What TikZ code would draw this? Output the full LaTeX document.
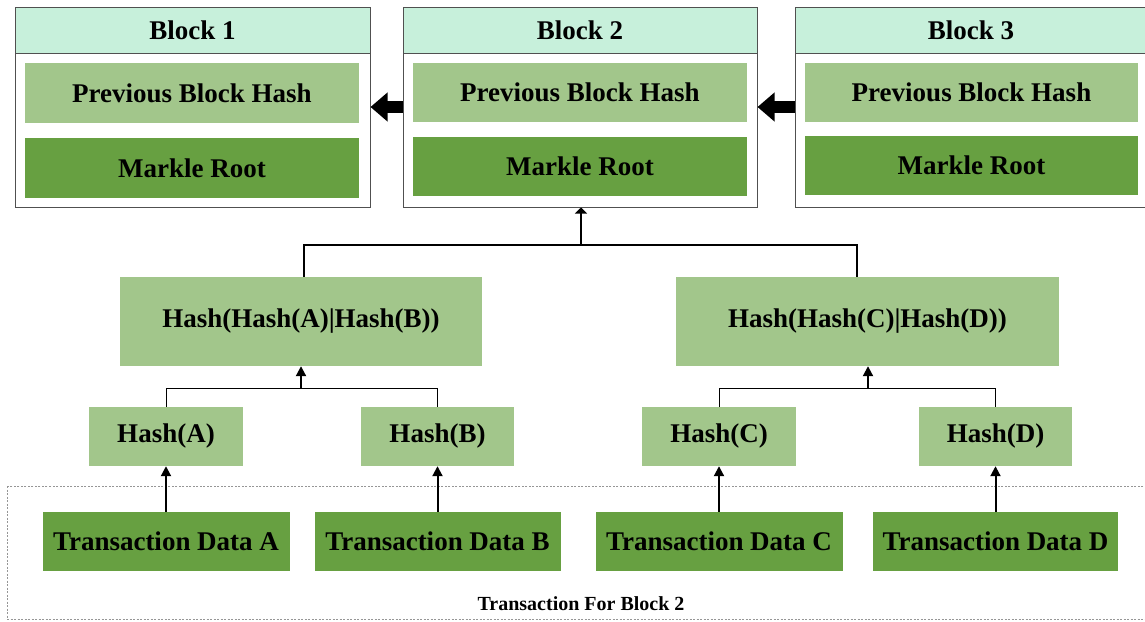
\documentclass[tikz,border=0pt]{standalone}
\usepackage{fontspec}
\setmainfont{Liberation Serif}
\usetikzlibrary{arrows.meta}
\definecolor{hdr}{RGB}{199,240,219}
\definecolor{lgreen}{RGB}{162,198,139}
\definecolor{dgreen}{RGB}{103,160,65}
\definecolor{bordergray}{RGB}{80,80,80}
\definecolor{dashgray}{RGB}{150,150,150}
\begin{document}
\begin{tikzpicture}[x=1pt,y=-1pt,
  font=\fontsize{27}{32}\selectfont\bfseries,
  outerbox/.style={draw=bordergray,line width=1pt,fill=white,inner sep=0pt},
  hdrbox/.style={draw=bordergray,line width=1pt,fill=hdr,inner sep=0pt},
  lbox/.style={fill=lgreen,inner sep=0pt},
  dbox/.style={fill=dgreen,inner sep=0pt},
  blockarrow/.style={line width=12pt,-{Triangle[length=17pt,width=28pt]}},
  rootline/.style={line width=2pt},
  rootarrow/.style={line width=2.5pt,-{Triangle[length=6pt,width=12pt]}},
  thinline/.style={line width=1pt},
  uparrow/.style={line width=2pt,-{Triangle[length=10pt,width=10pt]}},
  dashbox/.style={draw=dashgray,line width=0.8pt,dash pattern=on 2pt off 1.5pt}]
\clip (0,0) rectangle (1145,621);
\fill[white] (0,0) rectangle (1145,621);
% dashed region
\draw[dashbox] (7,486) rectangle (1170,619);
\node[font=\fontsize{20}{24}\selectfont\bfseries] (lbl) at (581,604) {Transaction For Block 2};
% Block 1
\node[outerbox,minimum width=355,minimum height=200] (b1) at (192.5,107) {};
\node[hdrbox,minimum width=355,minimum height=46] (h1) at (192.5,30) {Block 1};
\node[lbox,minimum width=334,minimum height=60] (p1) at (192,93) {Previous Block Hash};
\node[dbox,minimum width=334,minimum height=60] (m1) at (192,168) {Markle Root};
% Block 2
\node[outerbox,minimum width=354,minimum height=200] (b2) at (580,107) {};
\node[hdrbox,minimum width=354,minimum height=46] (h2) at (580,30) {Block 2};
\node[lbox,minimum width=334,minimum height=59] (p2) at (580,92.5) {Previous Block Hash};
\node[dbox,minimum width=334,minimum height=59] (m2) at (580,166.5) {Markle Root};
% Block 3
\node[outerbox,minimum width=352,minimum height=200] (b3) at (971,107) {};
\node[hdrbox,minimum width=352,minimum height=46] (h3) at (971,30) {Block 3};
\node[lbox,minimum width=333,minimum height=59] (p3) at (971.5,92.5) {Previous Block Hash};
\node[dbox,minimum width=333,minimum height=59] (m3) at (971.5,165.5) {Markle Root};
% block arrows
\draw[blockarrow] (b2.west) -- (b1.east);
\draw[blockarrow] (b3.west) -- (b2.east);
% hash level 2
\node[lbox,minimum width=362,minimum height=89] (hab) at (301,321.5) {Hash(Hash(A)|Hash(B))};
\node[lbox,minimum width=383,minimum height=89] (hcd) at (867.5,321.5) {Hash(Hash(C)|Hash(D))};
% hash level 1
\node[lbox,minimum width=154,minimum height=59] (ha) at (166,436.5) {Hash(A)};
\node[lbox,minimum width=153,minimum height=59] (hb) at (437.5,436.5) {Hash(B)};
\node[lbox,minimum width=154,minimum height=59] (hc) at (719,436.5) {Hash(C)};
\node[lbox,minimum width=153,minimum height=59] (hd) at (995.5,436.5) {Hash(D)};
% transactions
\node[dbox,minimum width=247,minimum height=59] (ta) at (166,541.5) {Transaction Data A};
\node[dbox,minimum width=246,minimum height=59] (tb) at (437.5,541.5) {Transaction Data B};
\node[dbox,minimum width=247,minimum height=59] (tc) at (719,541.5) {Transaction Data C};
\node[dbox,minimum width=245,minimum height=59] (td) at (995.5,541.5) {Transaction Data D};
% root connectors
\coordinate (jl) at (304,245);
\coordinate (jr) at (857,245);
\coordinate (jroot) at (581,245);
\draw[rootline] (hab.north -| jl) -- (jl) -- (jr) -- (hcd.north -| jr);
\draw[rootarrow] (jroot) -- (b2.south -| jroot);
% level connectors
\coordinate (jab) at (301,388);
\coordinate (jcd) at (868,388);
\draw[thinline] (ha.north) -- (ha.north |- jab) -- (hb.north |- jab) -- (hb.north);
\draw[thinline] (hc.north) -- (hc.north |- jcd) -- (hd.north |- jcd) -- (hd.north);
\draw[uparrow] (jab) -- (hab.south -| jab);
\draw[uparrow] (jcd) -- (hcd.south -| jcd);
% transaction arrows
\draw[uparrow] (ta.north) -- (ha.south);
\draw[uparrow] (tb.north) -- (hb.south);
\draw[uparrow] (tc.north) -- (hc.south);
\draw[uparrow] (td.north) -- (hd.south);
\end{tikzpicture}
\end{document}
